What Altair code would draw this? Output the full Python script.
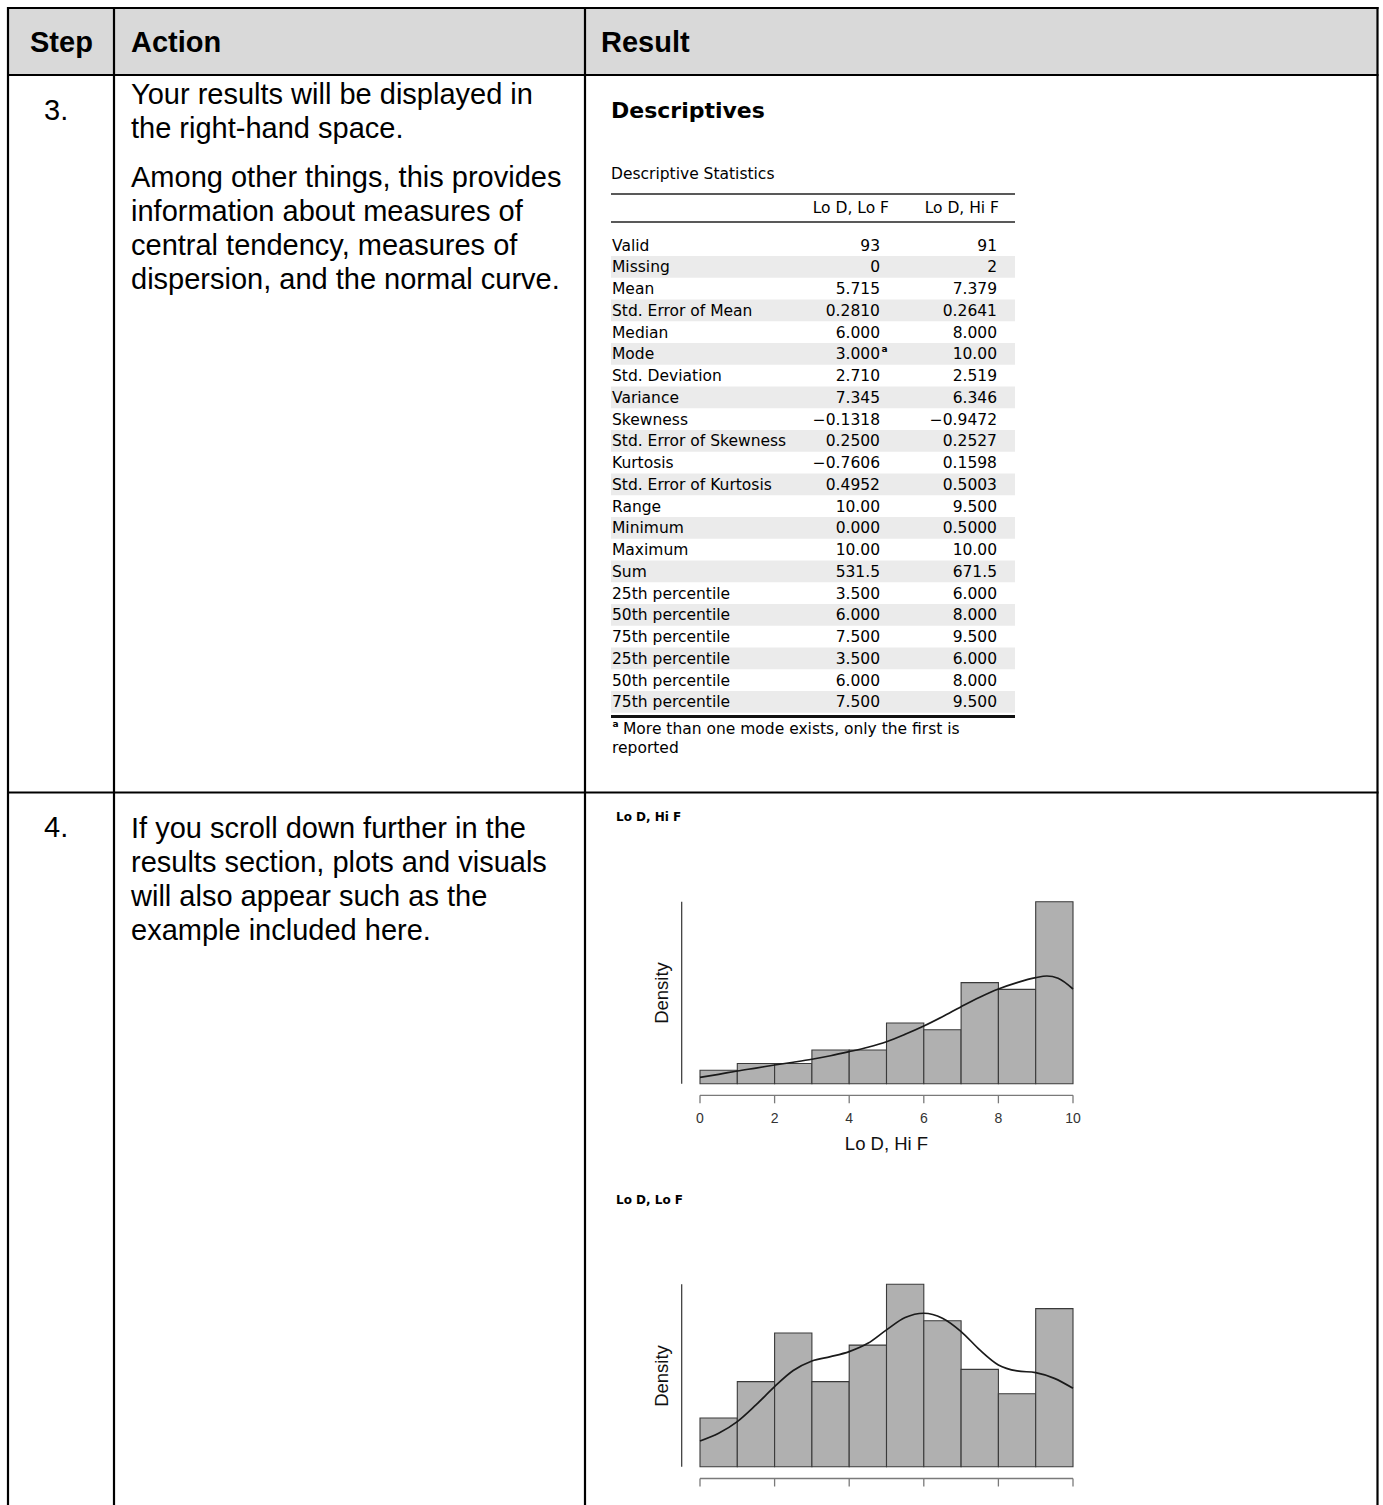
import altair as alt
import pandas as pd

# ----------------------------- content -----------------------------
header_labels = ["Step", "Action", "Result"]
step_labels = ["3.", "4."]
step3_lines = [
    "Your results will be displayed in",
    "the right-hand space.",
    "Among other things, this provides",
    "information about measures of",
    "central tendency, measures of",
    "dispersion, and the normal curve.",
]
step4_lines = [
    "If you scroll down further in the",
    "results section, plots and visuals",
    "will also appear such as the",
    "example included here.",
]

desc_heading = "Descriptives"
desc_table_title = "Descriptive Statistics"
desc_columns = ["Lo D, Lo F", "Lo D, Hi F"]
desc_rows = [
    "Valid", "Missing", "Mean", "Std. Error of Mean", "Median", "Mode",
    "Std. Deviation", "Variance", "Skewness", "Std. Error of Skewness",
    "Kurtosis", "Std. Error of Kurtosis", "Range", "Minimum", "Maximum", "Sum",
    "25th percentile", "50th percentile", "75th percentile",
    "25th percentile", "50th percentile", "75th percentile",
]
desc_lo_lo = [
    "93", "0", "5.715", "0.2810", "6.000", "3.000", "2.710", "7.345",
    "\u22120.1318", "0.2500", "\u22120.7606", "0.4952", "10.00", "0.000",
    "10.00", "531.5", "3.500", "6.000", "7.500", "3.500", "6.000", "7.500",
]
desc_lo_hi = [
    "91", "2", "7.379", "0.2641", "8.000", "10.00", "2.519", "6.346",
    "\u22120.9472", "0.2527", "0.1598", "0.5003", "9.500", "0.5000",
    "10.00", "671.5", "6.000", "8.000", "9.500", "6.000", "8.000", "9.500",
]
footnote_mark = "a"
footnote_lines = ["More than one mode exists, only the first is", "reported"]

plot_titles = ["Lo D, Hi F", "Lo D, Lo F"]
density_label = "Density"

bin_edges = [0, 1, 2, 3, 4, 5, 6, 7, 8, 9, 10]
counts_lo_hi = [2, 3, 3, 5, 5, 9, 8, 15, 14, 27]      # n = 91
counts_lo_lo = [4, 7, 11, 7, 10, 15, 12, 8, 6, 13]    # n = 93
n_lo_hi = 91
n_lo_lo = 93

kde_x_lo_hi = [0, 0.5, 1, 1.5, 2, 2.5, 3, 3.5, 4, 4.5, 5, 5.5, 6, 6.5, 7, 7.5,
               8, 8.5, 9, 9.3, 9.6, 10]
kde_lo_hi = [0.0104, 0.0153, 0.0207, 0.0255, 0.0305, 0.0350, 0.0398, 0.0455,
             0.0522, 0.0595, 0.0685, 0.0806, 0.0941, 0.1093, 0.1256, 0.1410,
             0.1544, 0.1648, 0.1729, 0.1756, 0.1719, 0.1544]
kde_x_lo_lo = [0, 0.5, 1, 1.5, 2, 2.5, 3, 3.5, 4, 4.5, 5, 5.5, 6, 6.5, 7, 7.5,
               8, 8.5, 9, 9.5, 10]
kde_lo_lo = [0.0227, 0.0295, 0.0398, 0.0546, 0.0708, 0.0850, 0.0935, 0.0973,
             0.1018, 0.1091, 0.1210, 0.1319, 0.1357, 0.1313, 0.1195, 0.1033,
             0.0900, 0.0847, 0.0832, 0.0781, 0.0693]
x_ticks = [0, 2, 4, 6, 8, 10]

# ----------------------------- layout -----------------------------
W, H = 1383, 1505
ARIAL = "Liberation Sans"
JASP = "DejaVu Sans"
JASP_SIZE = 15.5

page_x = alt.Scale(domain=[0, W], range=[0, W], nice=False, zero=False)
page_y = alt.Scale(domain=[0, H], range=[0, H], nice=False, zero=False)


def px(field="x"):
    return alt.X(f"{field}:Q", scale=page_x, axis=None)


def py(field="y"):
    return alt.Y(f"{field}:Q", scale=page_y, axis=None)


def text_layer(df, **kw):
    return alt.Chart(df).mark_text(**kw).encode(x=px(), y=py(), text="text:N")


# frame geometry
L, R, T = 8, 1377.5, 8
col1, col2 = 114, 585
head_b, row_b = 75, 792.5

# grey fills: header + banded rows of the statistics table
row_y0, row_step = 245, 21.76
tab_l, tab_r = 611, 1015
fills = [dict(x=L, x2=R, y=T, y2=head_b, fill="#d9d9d9")]
for i in range(len(desc_rows)):
    if i % 2 == 1:
        cy = row_y0 + i * row_step
        fills.append(dict(x=tab_l, x2=tab_r, y=cy - row_step / 2, y2=cy + row_step / 2,
                          fill="#ebebeb"))
fills_df = pd.DataFrame(fills)
fill_layer = alt.Chart(fills_df).mark_rect().encode(
    x=px(), x2="x2:Q", y=py(), y2="y2:Q", color=alt.Color("fill:N", scale=None))

# rules: table frame, stats table lines, histogram y-axis lines
bottom_line_y = row_y0 + (len(desc_rows) - 1) * row_step + 14.5
rules = [
    dict(x=L - 1, x2=R + 1, y=T, y2=T, w=2.2, c="#000"),
    dict(x=L - 1, x2=R + 1, y=head_b, y2=head_b, w=2.2, c="#000"),
    dict(x=L - 1, x2=R + 1, y=row_b, y2=row_b, w=2.2, c="#000"),
    dict(x=L, x2=L, y=T - 1, y2=H + 5, w=2.2, c="#000"),
    dict(x=col1, x2=col1, y=T - 1, y2=H + 5, w=2.2, c="#000"),
    dict(x=col2, x2=col2, y=T - 1, y2=H + 5, w=2.2, c="#000"),
    dict(x=R, x2=R, y=T - 1, y2=H + 5, w=2.2, c="#000"),
    dict(x=tab_l, x2=tab_r, y=194, y2=194, w=1.5, c="#222"),
    dict(x=tab_l, x2=tab_r, y=222, y2=222, w=1.5, c="#222"),
    dict(x=tab_l, x2=tab_r, y=bottom_line_y, y2=bottom_line_y, w=3, c="#111"),
    dict(x=681.7, x2=681.7, y=901.7, y2=1083.7, w=1.2, c="#333"),
    dict(x=681.7, x2=681.7, y=1284.3, y2=1466.7, w=1.2, c="#333"),
]
rules_df = pd.DataFrame(rules)
rule_layer = alt.Chart(rules_df).mark_rule().encode(
    x=px(), x2="x2:Q", y=py(), y2="y2:Q",
    strokeWidth=alt.StrokeWidth("w:Q", scale=None),
    color=alt.Color("c:N", scale=None))

# header texts
head_df = pd.DataFrame({"text": header_labels, "x": [30, 131, 601], "y": [43, 43, 43]})
head_layer = text_layer(head_df, font=ARIAL, fontSize=29, fontWeight="bold",
                        align="left", baseline="middle", color="#000")

# step numbers
steps_df = pd.DataFrame({"text": step_labels, "x": [44, 44], "y": [111, 828]})
steps_layer = text_layer(steps_df, font=ARIAL, fontSize=29, align="left",
                         baseline="middle", color="#000")

# action text
action_y = [94.5, 128.5, 177.5, 211.5, 245.5, 279.5] + \
    [828.5 + 34 * i for i in range(len(step4_lines))]
action_df = pd.DataFrame({"text": step3_lines + step4_lines,
                          "x": [131] * (len(step3_lines) + len(step4_lines)),
                          "y": action_y})
action_layer = text_layer(action_df, font=ARIAL, fontSize=29, align="left",
                          baseline="middle", color="#000")

# descriptives heading
heading_df = pd.DataFrame({"text": [desc_heading], "x": [611], "y": [110.5]})
heading_layer = text_layer(heading_df, font=JASP, fontSize=22, fontWeight="bold",
                           align="left", baseline="middle", color="#000")

subtitle_df = pd.DataFrame({"text": [desc_table_title], "x": [611], "y": [173.5]})
subtitle_layer = text_layer(subtitle_df, font=JASP, fontSize=JASP_SIZE, align="left",
                            baseline="middle", color="#000")

colhead_df = pd.DataFrame({"text": desc_columns, "x": [889, 999], "y": [207.5, 207.5]})
colhead_layer = text_layer(colhead_df, font=JASP, fontSize=JASP_SIZE, align="right",
                           baseline="middle", color="#000")

row_ys = [row_y0 + 0.5 + i * row_step for i in range(len(desc_rows))]
rowlab_df = pd.DataFrame({"text": desc_rows, "x": [612] * len(desc_rows), "y": row_ys})
rowlab_layer = text_layer(rowlab_df, font=JASP, fontSize=JASP_SIZE, align="left",
                          baseline="middle", color="#000")

vals_df = pd.DataFrame({"text": desc_lo_lo + desc_lo_hi,
                        "x": [880] * len(desc_lo_lo) + [997] * len(desc_lo_hi),
                        "y": row_ys + row_ys})
vals_layer = text_layer(vals_df, font=JASP, fontSize=JASP_SIZE, align="right",
                        baseline="middle", color="#000")

mode_i = desc_rows.index("Mode")
sup_df = pd.DataFrame({"text": [footnote_mark, footnote_mark],
                       "x": [881.5, 612.5],
                       "y": [row_ys[mode_i] - 5, bottom_line_y + 8]})
sup_layer = text_layer(sup_df, font=JASP, fontSize=9, fontWeight="bold",
                       align="left", baseline="middle", color="#000")

foot_df = pd.DataFrame({"text": footnote_lines, "x": [623, 612],
                        "y": [bottom_line_y + 13, bottom_line_y + 32]})
foot_layer = text_layer(foot_df, font=JASP, fontSize=JASP_SIZE, align="left",
                        baseline="middle", color="#000")

# histogram titles and axis titles
ptitle_df = pd.DataFrame({"text": plot_titles, "x": [616, 616], "y": [817, 1200]})
ptitle_layer = text_layer(ptitle_df, font=JASP, fontSize=12, fontWeight="bold",
                          align="left", baseline="middle", color="#000")

xtitle_df = pd.DataFrame({"text": [plot_titles[0]], "x": [886.5], "y": [1143.5]})
xtitle_layer = text_layer(xtitle_df, font=ARIAL, fontSize=18.5, align="center",
                          baseline="middle", color="#111")

dens_df = pd.DataFrame({"text": [density_label, density_label],
                        "x": [661.5, 661.5], "y": [993, 1376]})
dens_layer = text_layer(dens_df, font=ARIAL, fontSize=18.5, angle=270,
                        align="center", baseline="middle", color="#111")

page = alt.layer(fill_layer, rule_layer, head_layer, steps_layer, action_layer,
                 heading_layer, subtitle_layer, colhead_layer, rowlab_layer,
                 vals_layer, sup_layer, foot_layer, ptitle_layer, xtitle_layer,
                 dens_layer)


# ----------------------------- histograms -----------------------------
def histogram(counts, n, kde_x, kde_y, x_rng, y_rng, axis_y, show_labels):
    top = max(counts) / n
    xs = alt.Scale(domain=[0, 10], range=x_rng, nice=False, zero=False)
    ys = alt.Scale(domain=[0, top], range=y_rng, nice=False, zero=False)

    bars_df = pd.DataFrame({"start": bin_edges[:-1], "end": bin_edges[1:],
                            "count": counts, "base": [0] * len(counts)})
    bars = alt.Chart(bars_df).transform_calculate(
        density=f"datum.count / {n}"
    ).mark_rect(fill="#b0b0b0", stroke="#3a3a3a", strokeWidth=1.1).encode(
        x=alt.X("start:Q", scale=xs, axis=None), x2="end:Q",
        y=alt.Y("density:Q", scale=ys, axis=None), y2="base:Q")

    kde_df = pd.DataFrame({"v": kde_x, "d": kde_y})
    curve = alt.Chart(kde_df).mark_line(color="#1a1a1a", strokeWidth=1.7,
                                        interpolate="monotone").encode(
        x=alt.X("v:Q", scale=xs, axis=None), y=alt.Y("d:Q", scale=ys, axis=None))

    ax_df = pd.DataFrame({"a": [0], "b": [10]})
    axis_line = alt.Chart(ax_df).mark_rule(color="#7a7a7a", strokeWidth=1.3).encode(
        x=alt.X("a:Q", scale=xs, axis=None), x2="b:Q", y=alt.value(axis_y))

    tick_df = pd.DataFrame({"t": x_ticks, "label": [str(t) for t in x_ticks]})
    ticks = alt.Chart(tick_df).mark_rule(color="#7a7a7a", strokeWidth=1.3).encode(
        x=alt.X("t:Q", scale=xs, axis=None), y=alt.value(axis_y),
        y2=alt.value(axis_y + 8))

    layers = [bars, curve, axis_line, ticks]
    if show_labels:
        labels = alt.Chart(tick_df).mark_text(font=ARIAL, fontSize=14,
                                              color="#333", baseline="middle").encode(
            x=alt.X("t:Q", scale=xs, axis=None), y=alt.value(axis_y + 24),
            text="label:N")
        layers.append(labels)
    return alt.layer(*layers)


hist_hi = histogram(counts_lo_hi, n_lo_hi, kde_x_lo_hi, kde_lo_hi,
                    [700, 1073], [1083.7, 901.7], 1095.3, True)
hist_lo = histogram(counts_lo_lo, n_lo_lo, kde_x_lo_lo, kde_lo_lo,
                    [700, 1073], [1466.7, 1284.3], 1478.5, False)

chart = alt.layer(page, hist_hi, hist_lo).resolve_scale(
    x="independent", y="independent"
).properties(
    width=W, height=H, padding=0, background="white",
    autosize=alt.AutoSizeParams(type="none"),
).configure_view(stroke=None)

chart.save("out.html", embed_options={"renderer": "svg", "actions": False})
